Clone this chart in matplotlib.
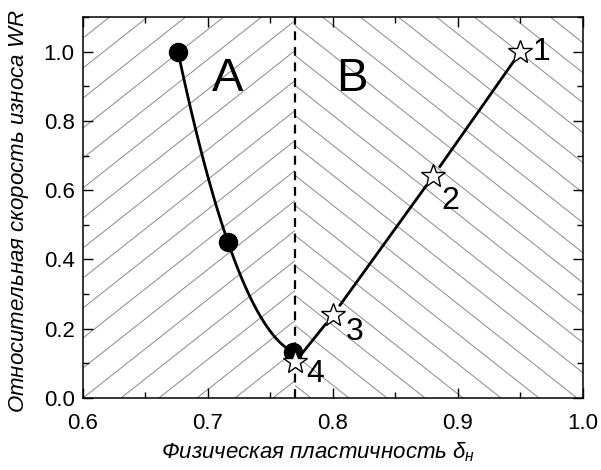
import numpy as np
import matplotlib
matplotlib.use("Agg")
import matplotlib.pyplot as plt
from matplotlib.patches import Rectangle
from matplotlib.ticker import MultipleLocator

plt.rcParams['font.family'] = ['Liberation Sans', 'DejaVu Sans']
plt.rcParams['mathtext.fontset'] = 'custom'
plt.rcParams['mathtext.it'] = 'Liberation Sans:italic'
plt.rcParams['mathtext.rm'] = 'Liberation Sans'

# region A: filled circles
a_x = [0.676, 0.716, 0.768]
a_y = [1.00, 0.45, 0.133]

# region B: open stars with numbers
b_x = [0.95, 0.88, 0.80, 0.77]
b_y = [1.00, 0.64, 0.24, 0.105]
b_lbl = ['1', '2', '3', '4']
b_lbl_x = [0.967, 0.894, 0.817, 0.786]
b_lbl_y = [1.00, 0.57, 0.19, 0.07]

border = 0.77

fig = plt.figure(figsize=(6.01, 4.70), dpi=100)
ax = fig.add_axes([0.1381, 0.1532, 0.970 - 0.1381, 0.9638 - 0.1532])
ax.set_xlim(0.6, 1.0)
ax.set_ylim(0.0, 1.1)

# diagonal hatching, drawn in axes pixels so the slope is fixed on screen
W, H = 500.0, 381.0
sx, sy = 38.0, 30.0
left_clip = Rectangle((0.6, 0), border - 0.6, 1.1, transform=ax.transData)
right_clip = Rectangle((border, 0), 1.0 - border, 1.1, transform=ax.transData)
for k in range(-15, 30):
    c = k * sx
    xs = np.array([c, c + H * sx / sy])
    ln = ax.plot(xs / W, np.array([0, H]) / H, transform=ax.transAxes,
                 color='#909090', lw=0.75, zorder=1)[0]
    ln.set_clip_path(left_clip)
    xs2 = np.array([c, c - H * sx / sy])
    ln2 = ax.plot(xs2 / W, np.array([0, H]) / H, transform=ax.transAxes,
                  color='#909090', lw=0.75, zorder=1)[0]
    ln2.set_clip_path(right_clip)

ax.axvline(border, color='black', lw=1.6, ls=(0, (4, 3)), zorder=2)

# smooth curve through the circles
coef = np.polyfit(a_x, a_y, 2)
xx = np.linspace(a_x[0], a_x[-1], 100)
ax.plot(xx, np.polyval(coef, xx), color='black', lw=2.0, zorder=3)
ax.plot(a_x, a_y, 'o', color='black', ms=13, zorder=4)

# star line: each segment stops short of the symbols
pts = ax.transData.transform(np.column_stack([b_x, b_y]))
gap = 12.0
inv = ax.transData.inverted()
for p0, p1 in zip(pts[:-1], pts[1:]):
    d = p1 - p0
    u = d / np.hypot(*d)
    seg = inv.transform(np.array([p0 + u * gap, p1 - u * gap]))
    ax.plot(seg[:, 0], seg[:, 1], color='black', lw=2.0, zorder=5)
ax.plot(b_x, b_y, '*', mfc='white', mec='black', mew=1.0, ms=18, zorder=7)
for lx, ly, t in zip(b_lbl_x, b_lbl_y, b_lbl):
    ax.text(lx, ly, t, fontsize=23, ha='center', va='center', zorder=8)

ax.text(0.716, 0.92, 'A', fontsize=34, ha='center', va='center', zorder=8)
ax.text(0.815, 0.92, 'B', fontsize=34, ha='center', va='center', zorder=8)

ax.xaxis.set_major_locator(MultipleLocator(0.1))
ax.xaxis.set_minor_locator(MultipleLocator(0.05))
ax.yaxis.set_major_locator(MultipleLocator(0.2))
ax.yaxis.set_minor_locator(MultipleLocator(0.1))
ax.xaxis.set_major_formatter('{x:.1f}')
ax.yaxis.set_major_formatter('{x:.1f}')
ax.tick_params(which='both', direction='in', top=True, right=True, width=1.0,
               labelsize=16)
ax.tick_params(which='major', length=7)
ax.tick_params(which='minor', length=4)
ax.tick_params(axis='x', pad=11)
ax.tick_params(axis='y', pad=6)
for s in ax.spines.values():
    s.set_linewidth(1.1)

ax.set_xlabel('Физическая пластичность $\\delta_н$', fontsize=16, style='italic')
ax.xaxis.set_label_coords(0.47, -0.11)
ax.xaxis.label.set_va('top')
ax.set_ylabel('Относительная скорость износа $WR$', fontsize=16, style='italic')
ax.yaxis.set_label_coords(-0.105, 0.49)

fig.savefig('out.png', dpi=100)
